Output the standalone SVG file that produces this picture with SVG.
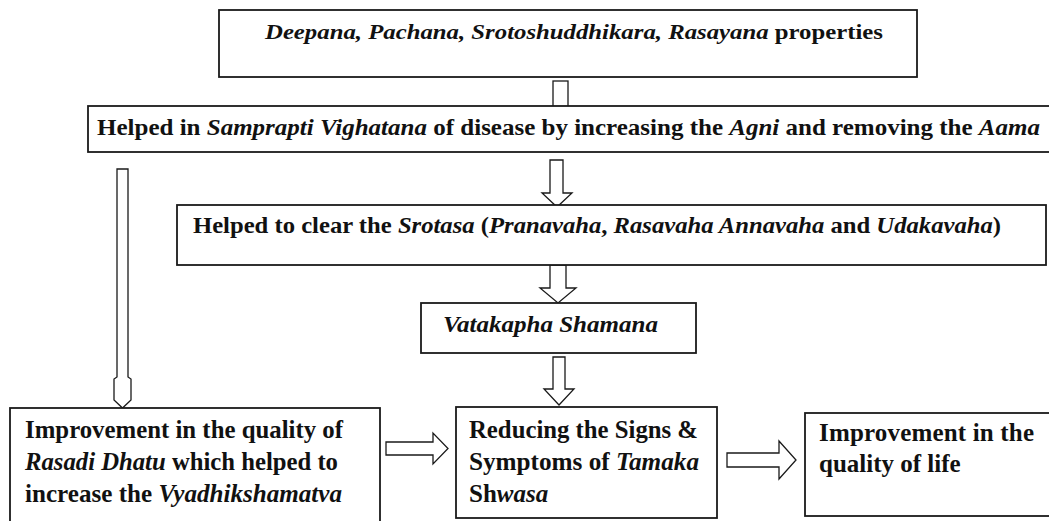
<svg xmlns="http://www.w3.org/2000/svg" width="1049" height="521" viewBox="0 0 1049 521">
<style>
.box{fill:#fff;stroke:#1a1a1a;stroke-width:1.8}
.arr{fill:#fff;stroke:#1a1a1a;stroke-width:1.3;stroke-linejoin:miter}
text{font-family:"Liberation Serif","Times New Roman",serif;font-weight:bold;fill:#111}
.i{font-style:italic}
</style>
<rect width="1049" height="521" fill="#fff"/>
<g id="connectors">
<rect class="arr" x="553" y="81" width="15" height="30"/>
<polygon class="arr" points="117,169 128,169 128,377 131,379 131,400 122.5,408 114,400 114,379 117,377"/>
<polygon class="arr" points="550,160 563,160 563,193 572,193 557,207 542,193 550,193"/>
<polygon class="arr" points="550,265 566,265 566,288 576,288 558,303 540,288 550,288"/>
<polygon class="arr" points="553,357 565,357 565,389 574,389 559,405 544,389 553,389"/>
<polygon class="arr" points="386,442 433,442 433,433 448,448.5 433,464 433,455 386,455"/>
<polygon class="arr" points="727,453 779,453 779,441 796,460 779,479 779,467 727,467"/>
</g>
<g id="n1">
<rect class="box" x="219" y="10" width="698" height="67"/>
<text x="265" y="39" font-size="22" textLength="618" lengthAdjust="spacingAndGlyphs"><tspan class="i">Deepana, Pachana, Srotoshuddhikara, Rasayana</tspan> properties</text>
</g>
<g id="n2">
<rect class="box" x="88" y="106" width="980" height="46"/>
<text x="97" y="135" font-size="24" textLength="943" lengthAdjust="spacingAndGlyphs">Helped in <tspan class="i">Samprapti Vighatana</tspan> of disease by increasing the <tspan class="i">Agni</tspan> and removing the <tspan class="i">Aama</tspan></text>
</g>
<g id="n3">
<rect class="box" x="177" y="205" width="869" height="60"/>
<text x="193" y="233" font-size="24" textLength="808" lengthAdjust="spacingAndGlyphs">Helped to clear the <tspan class="i">Srotasa</tspan> (<tspan class="i">Pranavaha</tspan>, <tspan class="i">Rasavaha Annavaha</tspan> and <tspan class="i">Udakavaha</tspan>)</text>
</g>
<g id="n4">
<rect class="box" x="421" y="303" width="275" height="50"/>
<text x="443" y="332" font-size="24" class="i" textLength="215" lengthAdjust="spacingAndGlyphs">Vatakapha Shamana</text>
</g>
<g id="n5">
<rect class="box" x="10" y="408" width="370" height="125"/>
<text x="25" y="438" font-size="25" textLength="318" lengthAdjust="spacingAndGlyphs">Improvement in the quality of</text>
<text x="25" y="470" font-size="25" textLength="313" lengthAdjust="spacingAndGlyphs"><tspan class="i">Rasadi Dhatu</tspan> which helped to</text>
<text x="25" y="502" font-size="25" textLength="317" lengthAdjust="spacingAndGlyphs">increase the <tspan class="i">Vyadhikshamatva</tspan></text>
</g>
<g id="n6">
<rect class="box" x="456" y="407" width="261" height="111"/>
<text x="469" y="438" font-size="25" textLength="229" lengthAdjust="spacingAndGlyphs">Reducing the Signs &amp;</text>
<text x="469" y="470" font-size="25" textLength="230" lengthAdjust="spacingAndGlyphs">Symptoms of <tspan class="i">Tamaka</tspan></text>
<text x="469" y="502" font-size="25">Sh<tspan class="i">wasa</tspan></text>
</g>
<g id="n7">
<rect class="box" x="805" y="413" width="260" height="103"/>
<text x="819" y="441" font-size="25" textLength="215" lengthAdjust="spacing">Improvement in the</text>
<text x="819" y="472" font-size="25">quality of life</text>
</g>
</svg>
